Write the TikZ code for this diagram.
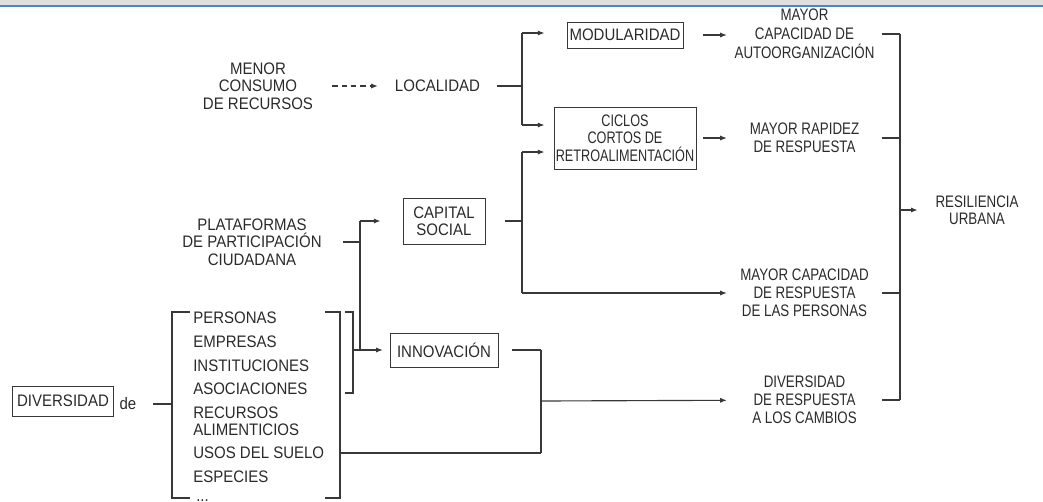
\documentclass[tikz,border=0pt]{standalone}
\usepackage{fontspec}
\setmainfont{Liberation Sans}[FakeStretch=0.9]
\newfontfamily\narrowfont{Liberation Sans}[FakeStretch=0.8]
\newfontfamily\tightfont{Liberation Sans}[FakeStretch=0.76]
\usetikzlibrary{arrows.meta}
\definecolor{linegray}{HTML}{383838}
\definecolor{textgray}{HTML}{2A2A2A}
\definecolor{bargray}{HTML}{DFDFDF}
\definecolor{barblue}{HTML}{4A86CF}
\begin{document}
\begin{tikzpicture}[x=0.75pt, y=-0.75pt,
    txt/.style={align=center, inner sep=0pt, text=textgray, font=\fontsize{12.5}{13}\selectfont},
    outcome/.style={txt, minimum width=116pt, font=\narrowfont\fontsize{12.5}{13.5}\selectfont},
    box/.style={draw=linegray, line width=0.7pt, align=center, inner sep=0pt, text=textgray, font=\fontsize{12.5}{13}\selectfont},
    item/.style={anchor=west, align=left, inner sep=0pt, text=textgray, font=\fontsize{12.5}{13}\selectfont},
    line/.style={draw=linegray, line width=0.85pt},
    arrow/.style={line, -{Latex[length=5pt,width=3.8pt]}},
    dasharrow/.style={arrow, dash pattern=on 4pt off 3pt}
]
\useasboundingbox (0,0) rectangle (1043,501);
\fill[bargray] (0,0) rectangle (1043,5);
\draw[barblue, line width=1.5pt] (0,6) -- (1043,6);

% upper branch
\node[txt, minimum width=111pt] (menor) at (258,86) {MENOR\\CONSUMO\\DE RECURSOS};
\node[txt, minimum width=89pt] (loc) at (437.5,86) {LOCALIDAD};
\node[box, minimum width=87pt, minimum height=19.5pt] (mod) at (625,35) {MODULARIDAD};
\node[box, minimum width=106.5pt, minimum height=46.5pt, font=\tightfont\fontsize{12.5}{13}\selectfont] (ciclos) at (625,138) {CICLOS\\CORTOS DE\\RETROALIMENTACIÓN};
\node[outcome, font=\narrowfont\fontsize{12.5}{14.2}\selectfont] (autoorg) at (804.5,34) {MAYOR\\CAPACIDAD DE\\AUTOORGANIZACIÓN};
\node[outcome] (rapidez) at (804.5,138) {MAYOR RAPIDEZ\\DE RESPUESTA};

% middle branch
\node[txt, minimum width=136.5pt] (plataf) at (252,242) {PLATAFORMAS\\DE PARTICIPACIÓN\\CIUDADANA};
\node[box, minimum width=61.5pt, minimum height=34.5pt] (capital) at (444,221) {CAPITAL\\SOCIAL};
\node[box, minimum width=81pt, minimum height=25.5pt] (innov) at (444,350) {INNOVACIÓN};
\node[outcome] (personas) at (804.5,293) {MAYOR CAPACIDAD\\DE RESPUESTA\\DE LAS PERSONAS};
\node[outcome] (divresp) at (804.5,400) {DIVERSIDAD\\DE RESPUESTA\\A LOS CAMBIOS};
\node[txt, minimum width=88.5pt, font=\narrowfont\fontsize{12.5}{13}\selectfont] (resil) at (977,210) {RESILIENCIA\\URBANA};

% diversity list
\node[box, minimum width=76pt, minimum height=22.5pt] (divers) at (63,401) {DIVERSIDAD};
\node[txt, minimum width=37.5pt] (de) at (128,404) {de};
\node[item] (pers) at (193,318) {PERSONAS};
\node[item] (empr) at (193,342) {EMPRESAS};
\node[item] (inst) at (193,366) {INSTITUCIONES};
\node[item] (asoc) at (193,389) {ASOCIACIONES};
\node[item] (recu) at (193,421.5) {RECURSOS\\ALIMENTICIOS};
\node[item] (usos) at (193,453) {USOS DEL SUELO};
\node[item] (espe) at (193,477) {ESPECIES};
\node[item, anchor=base west] (dots) at (196,501) {...};

% brackets
\draw[line] (190,312) -- (172,312) -- (172,498) -- (190,498);
\draw[line] (325,312) -- (340,312) -- (340,498) -- (325,498);
\draw[line] (345,312) -- (353,312) -- (353,393) -- (345,393);

% junctions
\coordinate (listbr) at (172,404);
\coordinate (smallbr) at (353,350);
\coordinate (usosbr) at (340,453);
\coordinate (locbus) at (522,86);
\coordinate (locbus-t) at (522,33);
\coordinate (locbus-b) at (522,125);
\coordinate (capbus) at (522,221);
\coordinate (capbus-t) at (522,152);
\coordinate (capbus-b) at (522,293);
\coordinate (platbus) at (360,242);
\coordinate (platbus-t) at (360,221);
\coordinate (platbus-b) at (360,350);
\coordinate (innbus-t) at (541,350);
\coordinate (innbus) at (541,401);
\coordinate (innbus-b) at (541,453);
\coordinate (outbus) at (900,210);

\draw[dasharrow] (menor) -- (loc);
\draw[line] (loc) -- (locbus);
\draw[line] (locbus-t) -- (locbus-b);
\draw[arrow, shorten >=16.5pt] (locbus-t) -- (locbus-t -| mod.west);
\draw[arrow, shorten >=6.75pt] (locbus-b) -- (locbus-b -| ciclos.west);
\draw[arrow, shorten <=15pt] (mod) -- (mod -| autoorg.west);
\draw[arrow, shorten <=5pt] (ciclos) -- (rapidez);

\draw[line, shorten <=15pt] (capital) -- (capbus);
\draw[line] (capbus-t) -- (capbus-b);
\draw[arrow, shorten >=6.75pt] (capbus-t) -- (capbus-t -| ciclos.west);
\draw[arrow] (capbus-b) -- (personas);

\draw[line] (plataf) -- (platbus);
\draw[line] (platbus-t) -- (platbus-b);
\draw[line] (smallbr) -- (platbus-b);
\draw[arrow, shorten >=16.5pt] (platbus-t) -- (capital);
\draw[arrow, shorten >=5pt] (platbus-b) -- (innov);

\draw[line] (de) -- (listbr);
\draw[line, shorten <=10.5pt] (innov) -- (innbus-t);
\draw[line] (innbus-t) -- (innbus-b);
\draw[line] (usosbr) -- (innbus-b);
\draw[arrow] (innbus) -- (divresp);

\draw[line] (autoorg) -- (autoorg -| outbus);
\draw[line] (rapidez) -- (rapidez -| outbus);
\draw[line] (personas) -- (personas -| outbus);
\draw[line] (divresp) -- (divresp -| outbus);
\draw[line] (autoorg -| outbus) -- (divresp -| outbus);
\draw[arrow] (outbus) -- (resil);
\end{tikzpicture}
\end{document}
